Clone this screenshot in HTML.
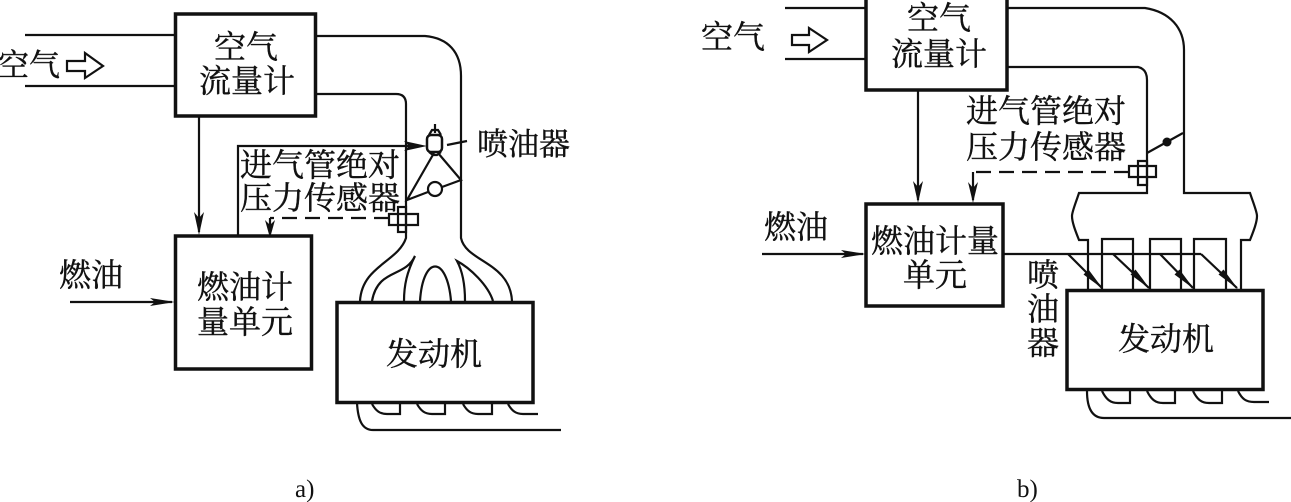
<!DOCTYPE html>
<html><head><meta charset="utf-8">
<style>
html,body{margin:0;padding:0;background:#fff;width:1291px;height:502px;overflow:hidden}
svg{display:block}
text{font-family:"Liberation Serif","Noto Serif CJK SC",serif;font-size:32px;fill:#111;stroke:#111;stroke-width:.4}
.t{fill:none;stroke:#111;stroke-width:2.2}
.b{fill:#fff;stroke:#111;stroke-width:3.5}
.h{fill:#111;stroke:none}
</style></head><body>
<svg width="1291" height="502" viewBox="0 0 1291 502" xmlns="http://www.w3.org/2000/svg">
<!-- LEFT -->
<path class="t" d="M25 35H175M25 86H175"/>
<path class="t" d="M316 36H425C448 38 461 52 461 76V238C466 262 510 262 512 301"/>
<path class="t" d="M316 94H396Q406 94 406 104V238C398 262 362 266 360 301"/>
<path class="t" d="M372 301C378 268 405 278 415 256C407 272 404 285 404 301M420 301C423 255 447 255 451 301M493 301C488 285 470 268 457 261C463 272 465 285 465 301"/>
<path class="t" d="M238 235V146H410"/>
<path class="h" d="M404 141L427 146L404 151L409 146Z"/>
<path class="t" d="M434 153L407 200L428 192M442 187L461 180L438 153M447 145L467 141M435 133V124"/>
<path class="t" d="M429 135L432 130H438L441 135M429 152L433 155H437L441 152"/>
<rect x="427" y="135" width="15" height="17" rx="4" fill="#fff" stroke="#111" stroke-width="2.5"/>
<circle cx="435" cy="189" r="7" fill="#fff" stroke="#111" stroke-width="2.2"/>
<path class="t" d="M199 116V232"/><path class="h" d="M194 212L199 235L204 212L199 218Z"/>
<path class="t" d="M70 302H172"/><path class="h" d="M150 298L175 302L150 306L155 302Z"/>
<path class="t" stroke-dasharray="15 8" d="M389 218H270"/><path class="t" d="M270 218V232"/>
<path class="h" d="M265 220L270 238L275 220L270 225Z"/>
<rect class="t" x="398" y="207" width="8" height="25"/>
<path class="t" d="M389 214H418V225H389Z"/>
<rect class="b" x="175.500" y="14" width="140" height="102"/>
<rect class="b" x="175.500" y="236" width="136" height="133"/>
<rect class="b" x="337" y="302.500" width="196" height="100"/>
<path class="t" d="M357 403C358 420 362 430 373 430H561"/>
<path class="t" d="M372 404C376 411 380 414 387 414H400V404M417 404C421 411 425 414 432 414H445V404M463 404C467 411 471 414 478 414H492V404M508 404C512 411 516 414 523 414H538"/>
<path d="M67 61H85V53L103 66L85 78V71H67Z" fill="#fff" stroke="#111" stroke-width="2.2"/>
<text x="-2" y="76" style="font-size:31px">空气</text>
<text x="214" y="58">空气</text>
<text x="199" y="92">流量计</text>
<text x="240" y="176">进气管绝对</text>
<text x="240" y="209">压力传感器</text>
<text x="477" y="155" style="font-size:31px">喷油器</text>
<text x="59" y="286">燃油</text>
<text x="197" y="298">燃油计</text>
<text x="197" y="333">量单元</text>
<text x="386" y="365">发动机</text>
<text x="295" y="497" style="font-size:25px;stroke-width:0">a)</text>
<!-- RIGHT -->
<path class="t" d="M785 8H1145C1170 12 1184 28 1184 50V193H1250C1254 205 1257 212 1257 216C1257 222 1254 230 1250 240H1241V291"/>
<path class="t" d="M785 59H866M1007 67H1138Q1147 69 1147 80V193H1079C1075 205 1072 212 1072 216C1072 222 1075 230 1079 240H1088V291"/>
<path class="t" d="M1102 290V239H1133V290M1150 290V239H1181V290M1194 290V239H1226V290"/>
<path class="t" d="M1147 153L1183 133"/><circle cx="1167" cy="142" r="4.500" fill="#111"/>
<path class="t" stroke-dasharray="15 8" d="M1129 172H973"/><path class="t" d="M973 172V200"/>
<path class="h" d="M968 182L973 203L978 182L973 188Z"/>
<path class="t" d="M1129 166H1156V177H1129ZM1138 161H1147V185H1138Z"/>
<path class="t" d="M918 90V200"/><path class="h" d="M913 181L918 203L923 181L918 187Z"/>
<path class="t" d="M762 254H863"/><path class="h" d="M841 250L866 254L841 258L846 254Z"/>
<path class="t" d="M1004 254H1201"/>
<path class="t" d="M1068 254L1102 288M1113 254L1149 288M1160 254L1193 288M1201 254L1237 288"/>
<path class="h" d="M1088.500 269.500L1103 289L1083.500 274.500ZM1135.500 269.500L1150 289L1130.500 274.500ZM1179.500 269.500L1194 289L1174.500 274.500ZM1223.500 269.500L1238 289L1218.500 274.500Z"/>
<rect class="b" x="866" y="-3" width="141" height="93"/>
<rect class="b" x="866" y="204" width="137" height="102"/>
<rect class="b" x="1067" y="290.500" width="196" height="99"/>
<path class="t" d="M1087 391C1087 408 1092 418 1104 418H1291"/>
<path class="t" d="M1102 391C1106 399 1110 403 1118 403H1130V391M1147 391C1151 399 1155 403 1163 403H1175V391M1193 391C1197 399 1201 403 1209 403H1222V391M1238 391C1242 399 1246 402 1254 402H1269"/>
<path d="M792 35H809V28L827 40L809 52V45H792Z" fill="#fff" stroke="#111" stroke-width="2.2"/>
<text x="701" y="48">空气</text>
<text x="907" y="29">空气</text>
<text x="891" y="65">流量计</text>
<text x="966" y="122">进气管绝对</text>
<text x="966" y="158">压力传感器</text>
<text x="764" y="238">燃油</text>
<text x="871" y="252">燃油计量</text>
<text x="903" y="286">单元</text>
<text x="1027" y="286">喷</text>
<text x="1027" y="320">油</text>
<text x="1027" y="354">器</text>
<text x="1118" y="350">发动机</text>
<text x="1017" y="497" style="font-size:25px;stroke-width:0">b)</text>
</svg>
</body></html>
